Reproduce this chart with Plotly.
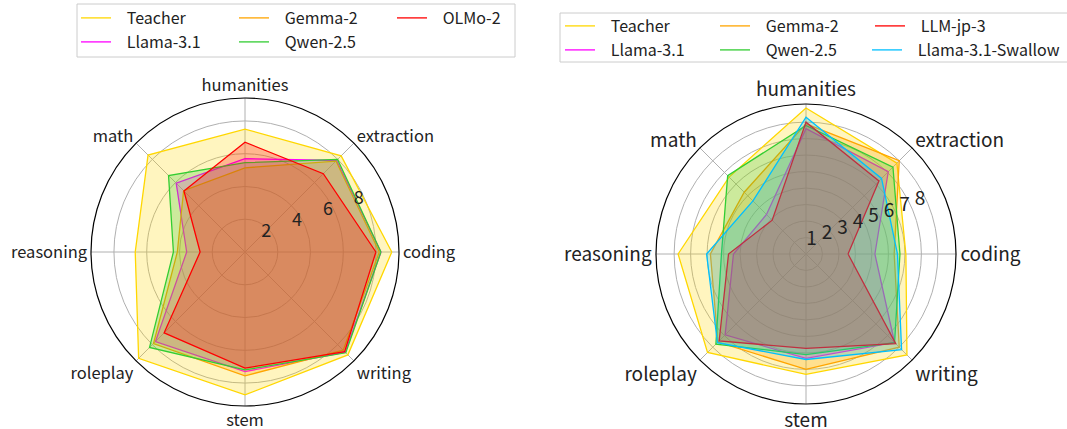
import plotly.graph_objects as go

categories = ["coding", "extraction", "humanities", "math", "reasoning", "roleplay", "stem", "writing"]

# Left chart (English models)
left_teacher = [8.96, 8.3, 7.5, 8.37, 6.7, 9.18, 8.72, 8.88]
left_llama = [8.3, 7.9, 5.7, 5.94, 3.56, 7.73, 7.3, 8.65]
left_gemma = [8.2, 7.85, 5.14, 5.3, 4.13, 7.9, 7.56, 8.48]
left_qwen = [8.3, 7.99, 5.45, 6.6, 4.37, 8.24, 7.2, 8.7]
left_olmo = [7.99, 6.76, 6.7, 5.27, 2.74, 6.98, 7.09, 8.6]

# Right chart (Japanese models)
right_teacher = [6.06, 7.8, 8.86, 6.6, 7.76, 8.45, 7.3, 8.66]
right_llama = [4.18, 7.06, 7.6, 3.39, 4.4, 6.94, 6.33, 7.6]
right_gemma = [5.35, 8.0, 7.9, 5.3, 5.8, 7.56, 7.0, 8.0]
right_qwen = [5.7, 7.46, 7.8, 6.72, 5.13, 7.73, 6.1, 7.6]
right_llmjp = [2.55, 6.26, 8.0, 2.9, 4.7, 7.45, 5.73, 7.7]
right_swallow = [5.55, 6.48, 8.3, 4.55, 6.03, 7.6, 6.4, 8.2]

left_ticks = [2, 4, 6, 8]
right_ticks = [1, 2, 3, 4, 5, 6, 7, 8]

COL = {
    "Teacher": (255, 215, 0),
    "Gemma-2": (255, 165, 0),
    "Llama-3.1": (255, 0, 255),
    "Qwen-2.5": (50, 205, 50),
    "OLMo-2": (255, 0, 0),
    "LLM-jp-3": (255, 0, 0),
    "Llama-3.1-Swallow": (0, 191, 255),
}

FONT = "Noto Sans CJK JP"
W, H = 1067, 429
PAD = "\u00a0\u00a0\u00a0"

fig = go.Figure()


def add(name, vals, subplot):
    r, g, b = COL[name]
    fig.add_trace(go.Scatterpolar(
        r=vals + vals[:1], theta=categories + categories[:1],
        mode="lines", name=name, subplot=subplot, showlegend=False,
        line=dict(color=f"rgb({r},{g},{b})", width=1.3),
        fill="toself", fillcolor=f"rgba({r},{g},{b},0.25)",
    ))


def legend_entry(name, subplot, legend, rank):
    r, g, b = COL[name]
    fig.add_trace(go.Scatterpolar(
        r=[None], theta=[None], mode="lines", name=PAD + name, subplot=subplot,
        legend=legend, legendrank=rank, showlegend=True, hoverinfo="skip",
        line=dict(color=f"rgb({r},{g},{b})", width=1.3),
    ))


# left: draw order Teacher, Llama, Gemma, Qwen, OLMo
add("Teacher", left_teacher, "polar")
add("Llama-3.1", left_llama, "polar")
add("Gemma-2", left_gemma, "polar")
add("Qwen-2.5", left_qwen, "polar")
add("OLMo-2", left_olmo, "polar")

add("Teacher", right_teacher, "polar2")
add("Llama-3.1", right_llama, "polar2")
add("Gemma-2", right_gemma, "polar2")
add("Qwen-2.5", right_qwen, "polar2")
add("LLM-jp-3", right_llmjp, "polar2")
add("Llama-3.1-Swallow", right_swallow, "polar2")

legend_entry("Teacher", "polar", "legend", 1)
legend_entry("Gemma-2", "polar", "legend", 2)
legend_entry("OLMo-2", "polar", "legend", 3)
legend_entry("Llama-3.1", "polar", "legend2", 1)
legend_entry("Qwen-2.5", "polar", "legend2", 2)

legend_entry("Teacher", "polar2", "legend3", 1)
legend_entry("Gemma-2", "polar2", "legend3", 2)
legend_entry("LLM-jp-3", "polar2", "legend3", 3)
legend_entry("Llama-3.1", "polar2", "legend4", 1)
legend_entry("Qwen-2.5", "polar2", "legend4", 2)
legend_entry("Llama-3.1-Swallow", "polar2", "legend5", 1)


def polar_cfg(cx, cy, rad, rmax, ticks, tfs, afs, ang, npad):
    return dict(
        domain=dict(x=[(cx - rad) / W, (cx + rad) / W],
                    y=[(H - cy - rad) / H, (H - cy + rad) / H]),
        bgcolor="white",
        radialaxis=dict(range=[0, rmax], tickvals=ticks,
                        ticktext=["\u00a0" * npad + str(t) for t in ticks],
                        showline=False, ticks="",
                        angle=ang, tickangle=ang, side="counterclockwise",
                        gridcolor="#b0b0b0", gridwidth=1,
                        tickfont=dict(family=FONT, size=tfs, color="#222")),
        angularaxis=dict(rotation=0, direction="counterclockwise",
                         showline=True, linecolor="black", linewidth=1.2,
                         gridcolor="#b0b0b0", gridwidth=1, ticks="",
                         tickfont=dict(family=FONT, size=afs, color="#222")),
    )


def leg(x, y, size, ew=None):
    d = dict(orientation="h", x=x / W, y=1 - y / H, xanchor="left", yanchor="middle",
             bgcolor="rgba(0,0,0,0)", borderwidth=0,
             font=dict(family=FONT, size=size, color="#222"), tracegroupgap=0,
             itemclick=False, itemdoubleclick=False)
    if ew is not None:
        d.update(entrywidth=ew, entrywidthmode="pixels")
    return d


fig.update_layout(
    width=W, height=H, margin=dict(l=0, r=0, t=0, b=0, autoexpand=False),
    paper_bgcolor="white", plot_bgcolor="white",
    polar=polar_cfg(245, 252, 154, 9.4, left_ticks, 18, 16.5, 20, 3),
    polar2=polar_cfg(806, 254, 150, 9.1, right_ticks, 19, 19, 20, 4),
    legend=leg(76, 18, 16, 113),
    legend2=leg(76, 42, 16, 113),
    legend3=leg(560, 26, 16, 110),
    legend4=leg(560, 50, 16, 110),
    legend5=leg(867, 50, 16),
    showlegend=True,
    shapes=[
        dict(type="rect", xref="paper", yref="paper", x0=77 / W, x1=515 / W,
             y0=1 - 57 / H, y1=1 - 4 / H, line=dict(color="#cccccc", width=1), fillcolor="rgba(0,0,0,0)"),
        dict(type="rect", xref="paper", yref="paper", x0=560 / W, x1=1070 / W,
             y0=1 - 62 / H, y1=1 - 13 / H, line=dict(color="#cccccc", width=1), fillcolor="rgba(0,0,0,0)"),
    ],
)

fig.write_html("out.html", config={"displayModeBar": False},
               post_script="document.body.style.margin='0';document.body.style.padding='0';")
